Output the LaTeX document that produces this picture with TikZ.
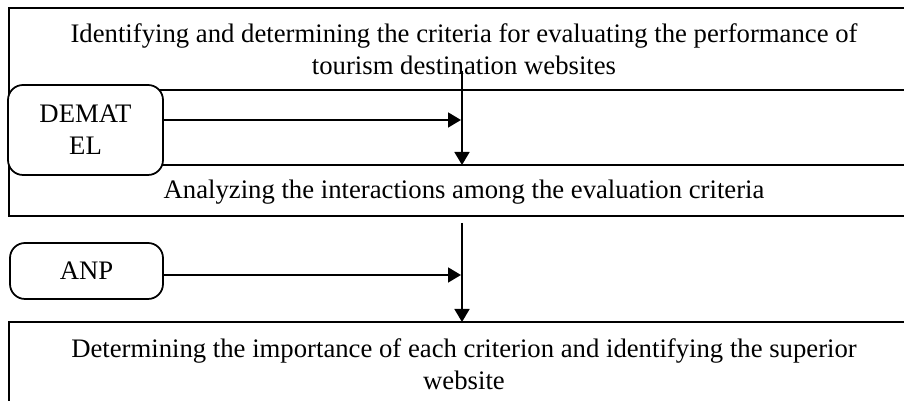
\documentclass[tikz,border=0pt]{standalone}
\usepackage{fontspec}
\setmainfont{Liberation Serif}
\usetikzlibrary{arrows.meta}
\tikzset{
	method/.style={draw, rounded corners=3mm, fill=white, align=center, inner sep=0pt},
	caption/.style={align=center, inner sep=0pt},
}

\begin{document}
\begin{tikzpicture}[x=0.2mm, y=0.2mm, line width=1pt, >={Triangle[length=2.6mm,width=3mm]}, font=\fontsize{15.2pt}{18.2pt}\selectfont]
	% 904 x 401 units, one unit = 0.2mm
	\useasboundingbox (0,0) rectangle (904,401);
	% first stage: criteria, DEMATEL, interactions
	\draw (9,185) rectangle (910,393);
	\draw (60,236) rectangle (910,311);
	\node[caption] (crit) at (464,352) {Identifying and determining the criteria for evaluating the performance of\\tourism destination websites};
	\node[caption] (inter) at (464,209) {Analyzing the interactions among the evaluation criteria};
	\node[method, minimum width=31mm, minimum height=18mm] (dematel) at (85.5,271) {DEMAT\\EL};
	\coordinate (top1) at (462,330);
	\coordinate (bot1) at (462,236);
	\coordinate (in1) at (461,281);
	\draw[->] (dematel.east |- in1) -- (in1);
	\draw[->] (top1) -- (bot1);
	% second stage: ANP
	\node[method, minimum width=30.6mm, minimum height=11.2mm] (anp) at (86.5,130) {ANP};
	\coordinate (top2) at (462,178);
	\coordinate (bot2) at (462,79);
	\coordinate (in2) at (461,126);
	\draw[->] (anp.east |- in2) -- (in2);
	\draw[->] (top2) -- (bot2);
	% last stage
	\draw (9,-10) rectangle (910,79);
	\node[caption] (rank) at (464,37) {Determining the importance of each criterion and identifying the superior\\website};
\end{tikzpicture}
\end{document}
